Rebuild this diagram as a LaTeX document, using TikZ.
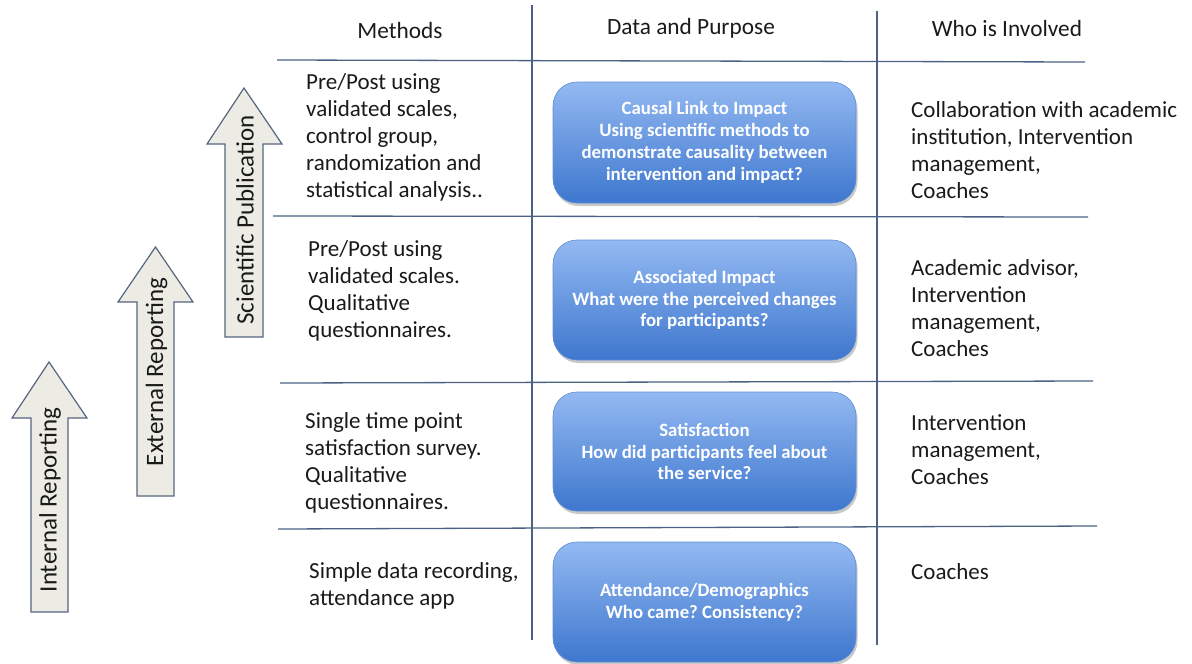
\documentclass[tikz,border=0pt]{standalone}
\usepackage{fontspec}
\setmainfont{Carlito}
\frenchspacing
\usetikzlibrary{shadows}
\definecolor{rulecol}{HTML}{4C6284}
\definecolor{arrowfill}{HTML}{ECECE4}
\definecolor{arrowedge}{HTML}{56657E}
\definecolor{boxtop}{HTML}{93B9F2}
\definecolor{boxbot}{HTML}{3E77CE}
\definecolor{boxedge}{HTML}{5E8FD6}
\definecolor{txt}{HTML}{1A1A1A}
\begin{document}
\begin{tikzpicture}[x=1pt,y=1pt,
  tablerule/.style={draw=rulecol, line width=1.3pt},
  uparrow/.style={draw=arrowedge, fill=arrowfill, line width=1.2pt, line join=miter},
  arrowlabel/.style={rotate=90, text=txt, font=\fontsize{25}{28}\selectfont, inner sep=0pt},
  header/.style={text=txt, font=\fontsize{23.3}{27}\selectfont, inner sep=0pt},
  celltext/.style={text=txt, align=left, anchor=west, inner sep=0pt,
    font=\fontsize{23}{27}\selectfont},
  databox/.style={rounded corners=24pt, top color=boxtop, bottom color=boxbot,
    draw=boxedge, line width=0.6pt, minimum width=303pt, align=center,
    text=white, font=\bfseries\fontsize{18.8}{21.8}\selectfont,
    drop shadow={shadow xshift=1.5pt, shadow yshift=-3pt, opacity=0.3, fill=black!70}}
]
\useasboundingbox (0,0) rectangle (1192,-664);

% table rules
\draw[tablerule] (532,-5) -- (532,-640);
\draw[tablerule] (877,-11) -- (877,-645);
\draw[tablerule] (277,-60) -- (1085,-62);
\draw[tablerule] (273,-216) -- (1088,-217);
\draw[tablerule] (280,-383) -- (1093,-381);
\draw[tablerule] (278,-529) -- (1097,-526);

% column headers
\node[header] (hmeth) at (400,-30) {Methods};
\node[header] (hdata) at (691,-28) {Data and Purpose};
\node[header] (hwho)  at (1007,-28) {Who is Involved};

% reporting level arrows
\draw[uparrow] (244,-88) -- (282,-144) -- (263,-144) -- (263,-337)
  -- (225,-337) -- (225,-144) -- (207,-144) -- cycle;
\draw[uparrow] (155.5,-247) -- (193,-302) -- (174,-302) -- (174,-496)
  -- (137,-496) -- (137,-302) -- (118,-302) -- cycle;
\draw[uparrow] (49,-362) -- (87,-418) -- (68,-418) -- (68,-612)
  -- (31,-612) -- (31,-418) -- (12,-418) -- cycle;
\node[arrowlabel] (sci) at (245,-220) {Scientific Publication};
\node[arrowlabel] (ext) at (156.5,-372) {External Reporting};
\node[arrowlabel] (int) at (50,-500) {Internal Reporting};

% methods column
\node[celltext] (m1) at (306,-137) {Pre/Post using\\validated scales,\\control group,\\randomization and\\statistical analysis..};
\node[celltext] (m2) at (308,-291) {Pre/Post using\\validated scales.\\Qualitative\\questionnaires.};
\node[celltext] (m3) at (305,-462.5) {Single time point\\satisfaction survey.\\Qualitative\\questionnaires.};
\node[celltext] (m4) at (309,-586) {Simple data recording,\\attendance app};

% data and purpose column
\node[databox, minimum height=121pt] (d1) at (704.5,-142.5)
  {Causal Link to Impact\\Using scientific methods to\\demonstrate causality between\\intervention and impact?};
\node[databox, minimum height=120pt] (d2) at (704.5,-300)
  {Associated Impact\\What were the perceived changes\\for participants?};
\node[databox, minimum height=119pt] (d3) at (704.5,-451.5)
  {Satisfaction\\How did participants feel about\\the service?};
\node[databox, minimum height=120pt] (d4) at (704.5,-602)
  {Attendance/Demographics\\Who came? Consistency?};

% who is involved column
\node[celltext] (w1) at (911,-150.5) {Collaboration with academic\\institution, Intervention\\management,\\Coaches};
\node[celltext] (w2) at (911,-308) {Academic advisor,\\Intervention\\management,\\Coaches};
\node[celltext] (w3) at (911,-449.5) {Intervention\\management,\\Coaches};
\node[celltext] (w4) at (911,-572) {Coaches};
\end{tikzpicture}
\end{document}
